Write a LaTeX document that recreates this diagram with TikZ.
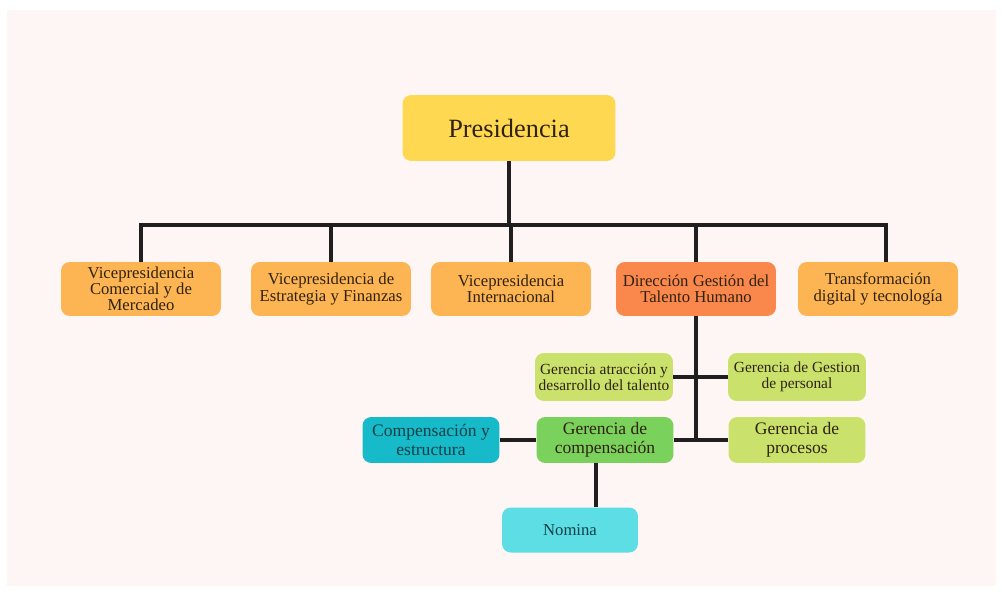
\documentclass[tikz,border=0pt]{standalone}
\usepackage{fontspec}
\setmainfont{Liberation Serif}
\usepackage{xcolor}
\usetikzlibrary{positioning,calc}
\definecolor{bgpink}{RGB}{253,246,244}
\definecolor{presyellow}{RGB}{255,216,82}
\definecolor{vporange}{RGB}{253,180,82}
\definecolor{dirorange}{RGB}{250,136,76}
\definecolor{lightgreen}{RGB}{202,226,108}
\definecolor{midgreen}{RGB}{122,210,92}
\definecolor{tealbox}{RGB}{22,186,200}
\definecolor{cyanbox}{RGB}{92,222,228}
\definecolor{ink}{RGB}{48,34,16}
\definecolor{tealink}{RGB}{16,64,72}
\definecolor{wire}{RGB}{32,30,30}

\begin{document}
\begin{tikzpicture}[x=0.02cm,y=-0.02cm,font=\fontsize{9.5}{9.2}\selectfont]
  \tikzstyle{box}=[rounded corners=5pt,inner sep=2pt,align=center,text=ink]
  \tikzstyle{vp}=[box,fill=vporange,minimum width=3.2cm,minimum height=1.08cm]
  \tikzstyle{mgr}=[box,fill=lightgreen,minimum width=2.76cm,minimum height=0.96cm,font=\fontsize{8.8}{9.2}\selectfont]
  \tikzstyle{sub}=[box,minimum width=2.74cm,minimum height=0.92cm,font=\fontsize{10}{11}\selectfont]
  \tikzstyle{wire}=[draw=wire,line width=1.9pt]
  % canvas
  \fill[white] (0,0) rectangle (1002,592);
  \fill[bgpink] (7,10) rectangle (996,586);
  % top
  \node[box,fill=presyellow,minimum width=4.26cm,minimum height=1.32cm,font=\fontsize{15}{16}\selectfont] (pres) at (509,128) {Presidencia};
  \coordinate (bus) at (509,225);
  % vice presidencies
  \node[vp] (v1) at (141,289) {Vicepresidencia\\Comercial y de\\Mercadeo};
  \node[vp] (v2) at (331,289) {Vicepresidencia de\\Estrategia y Finanzas};
  \node[vp] (v3) at (511,289) {Vicepresidencia\\Internacional};
  \node[vp,fill=dirorange] (dth) at (696,289) {Dirección Gestión del\\Talento Humano};
  \node[vp] (v5) at (878,289) {Transformación\\digital y tecnología};
  % managers
  \node[mgr] (gat) at (604,377) {Gerencia atracción y\\desarrollo del talento};
  \node[mgr] (ggp) at (797,377) {Gerencia de Gestion\\de personal};
  \node[sub,fill=midgreen] (gcomp) at (605,440) {Gerencia de\\compensación};
  \node[sub,fill=lightgreen] (gproc) at (797,440) {Gerencia de\\procesos};
  \node[sub,fill=tealbox,text=tealink] (cye) at (431,440) {Compensación y\\estructura};
  \node[box,fill=cyanbox,text=tealink,minimum width=2.72cm,minimum height=0.9cm] (nom) at (570,530) {Nomina};
  % wiring
  \draw[wire] (pres) -- (bus);
  \draw[wire] (v1.north) |- (bus);
  \draw[wire] (v2.north) |- (bus);
  \draw[wire] (v3.north) |- (bus);
  \draw[wire] (dth.north) |- (bus);
  \draw[wire] ([xshift=0.16cm]v5.north) |- (bus);
  \draw[wire] (dth.south) -- (dth.south |- gcomp);
  \draw[wire] (gat) -- (ggp);
  \draw[wire] (gcomp) -- (gproc);
  \draw[wire] (cye) -- (gcomp);
  \draw[wire] ([xshift=-0.18cm]gcomp.south) -- ([xshift=-0.18cm]gcomp.south |- nom.north);
\end{tikzpicture}
\end{document}
